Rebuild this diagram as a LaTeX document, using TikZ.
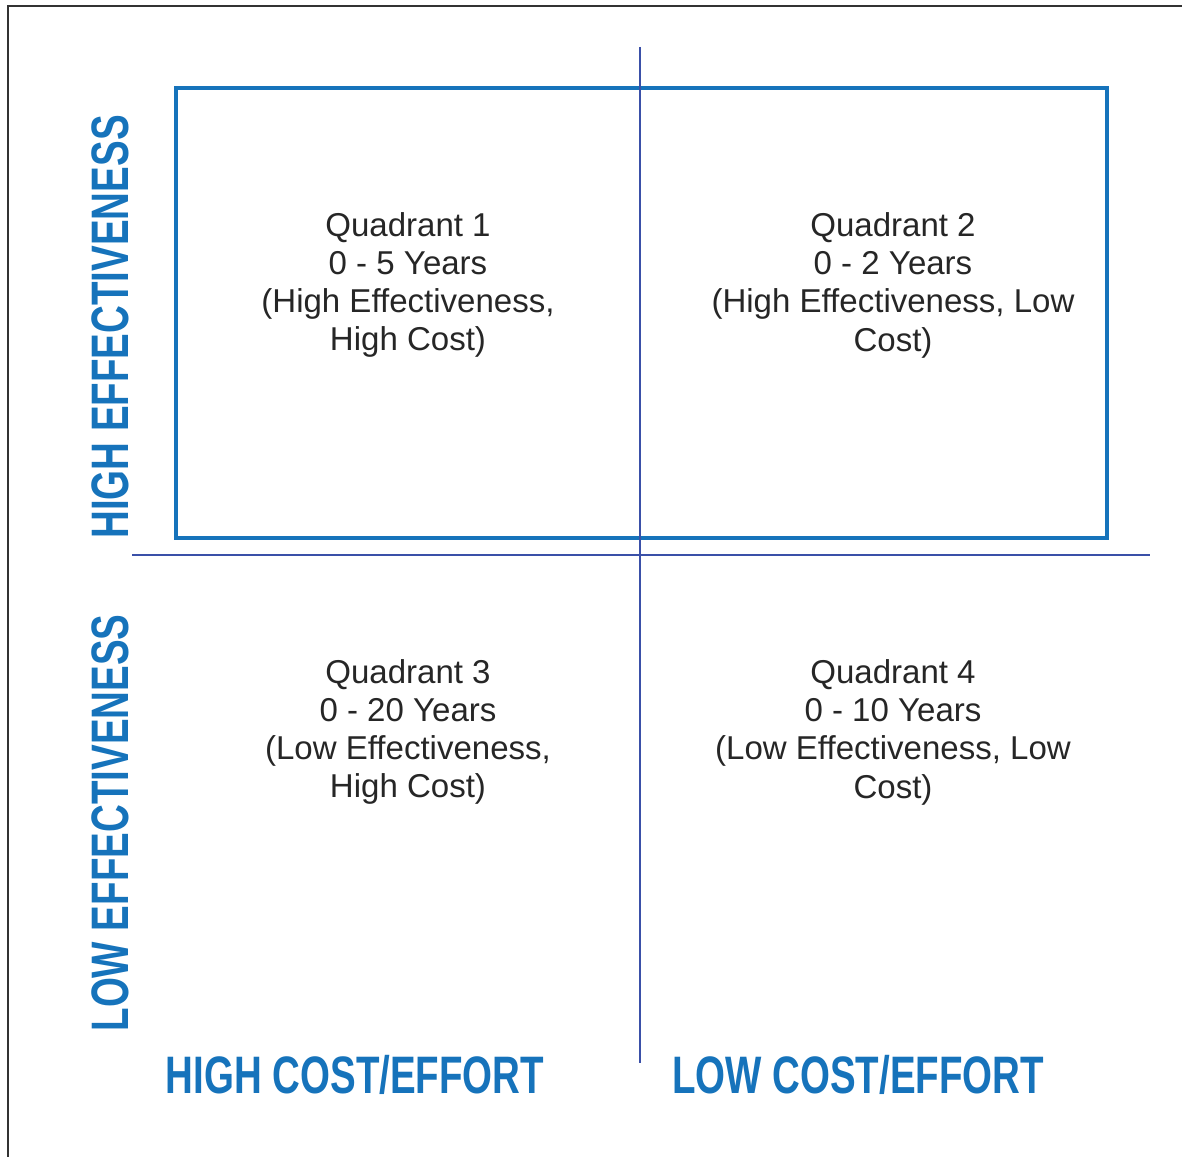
\documentclass[tikz,border=0pt]{standalone}
\usepackage{fontspec}
\setmainfont{Liberation Sans}
\newfontfamily\axisfont[FakeStretch=0.73]{Liberation Sans}
\usetikzlibrary{positioning,calc}
\definecolor{quadblue}{HTML}{1673BB}
\definecolor{axisblue}{HTML}{3A50A8}
\begin{document}
\begin{tikzpicture}[
  quad/.style={align=center,text=black!85,font=\fontsize{9.4}{10.9}\selectfont,inner sep=0pt},
  axislabel/.style={text=quadblue,font=\axisfont\bfseries\fontsize{15}{16}\selectfont,inner sep=0pt},
  hibox/.style={draw=quadblue,line width=0.45mm},
  axisline/.style={draw=axisblue,line width=0.28mm}
]
\useasboundingbox (0,0) rectangle (11.82,11.57);
% outer frame, only top and left edges fall on the page
\draw[black!80,line width=0.2mm] (0.08,-0.5) -- (0.08,11.51) -- (12.5,11.51);
% high effectiveness box
\draw[hibox] (1.76,10.69) rectangle (11.07,6.19);
% axes
\coordinate (xl) at (1.32,6.02);
\coordinate (xr) at (11.50,6.02);
\coordinate (yt) at (6.40,11.10);
\coordinate (yb) at (6.40,0.94);
\draw[axisline] (xl) -- (xr);
\draw[axisline] (yt) -- (yb);
% quadrants
\node[quad] (Q1) at (4.08,8.72)
 {Quadrant 1\\0 - 5 Years\\(High Effectiveness,\\High Cost)};
\node[quad] (Q2) at (8.93,8.72)
 {Quadrant 2\\0 - 2 Years\\(High Effectiveness, Low\\Cost)};
\node[quad] (Q3) at (4.08,4.25)
 {Quadrant 3\\0 - 20 Years\\(Low Effectiveness,\\High Cost)};
\node[quad] (Q4) at (8.93,4.25)
 {Quadrant 4\\0 - 10 Years\\(Low Effectiveness, Low\\Cost)};
% axis labels
\node[axislabel] (hicost) at (3.55,0.82) {HIGH COST/EFFORT};
\node[axislabel] (locost) at (8.58,0.82) {LOW COST/EFFORT};
\node[axislabel,rotate=90] (hieff) at (1.10,8.30) {HIGH EFFECTIVENESS};
\node[axislabel,rotate=90] (loeff) at (1.10,3.34) {LOW EFFECTIVENESS};
\end{tikzpicture}
\end{document}
